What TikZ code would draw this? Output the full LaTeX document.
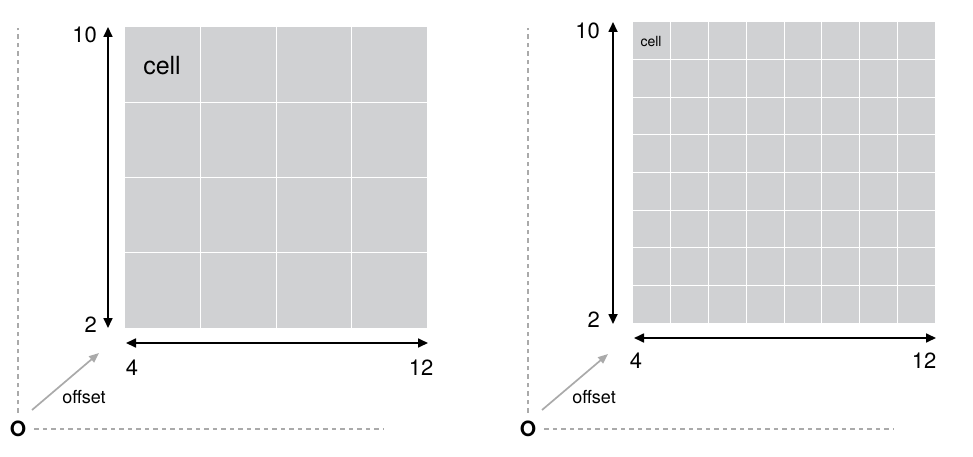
\documentclass[tikz,border=0pt]{standalone}
\usepackage{fontspec}
\setmainfont{TeX Gyre Heros}
\usetikzlibrary{arrows.meta,positioning}
\definecolor{cellgray}{RGB}{208,209,211}
\definecolor{guidegray}{RGB}{170,170,170}

\begin{document}
\begin{tikzpicture}[
  x=1pt, y=-1pt,
  dim/.style={{Triangle[length=10pt,width=9pt]}-{Triangle[length=10pt,width=9pt]}, line width=1.7pt},
  guide/.style={guidegray, line width=1.5pt, dash pattern=on 4.5pt off 4pt},
  offarrow/.style={-{Triangle[length=10pt,width=8pt]}, guidegray, line width=1.7pt},
  gridline/.style={white, line width=1pt},
  tick/.style={inner sep=0pt, font=\fontsize{22}{22}\selectfont},
  origin/.style={inner sep=0pt, font=\bfseries\fontsize{21}{21}\selectfont},
  offlabel/.style={inner sep=0pt, font=\fontsize{18}{18}\selectfont}
]
  \useasboundingbox (0,0) rectangle (973,457);

  % left: 4 x 4 cells
  \fill[cellgray] (125,27) rectangle (427,328);
  \foreach \i in {1,2,3} {
    \draw[gridline] ({125+75.5*\i},27) -- ({125+75.5*\i},328);
    \draw[gridline] (125,{27+75.25*\i}) -- (427,{27+75.25*\i});
  }
  \node[inner sep=0pt, font=\fontsize{25}{25}\selectfont] (cellL) at (162,66) {cell};

  \coordinate (vtopL) at (108,27);
  \coordinate (vbotL) at (108,328);
  \coordinate (hlftL) at (126,343);
  \coordinate (hrgtL) at (428,343);
  \draw[dim] (vbotL) -- (vtopL);
  \draw[dim] (hlftL) -- (hrgtL);
  \node[tick, anchor=east] (tenL) at (97,35) {10};
  \node[tick, anchor=east] (twoL) at (97,325) {2};
  \node[tick] (fourL) at (132,368) {4};
  \node[tick] (twelveL) at (421,368) {12};

  \node[origin] (originL) at (18,429) {O};
  \coordinate (ytopL) at (18,28);
  \coordinate (xendL) at (383,429);
  \draw[guide, shorten <=8pt] (originL) -- (ytopL);
  \draw[guide, shorten <=8pt] (originL) -- (xendL);
  \coordinate (offsL) at (32,410);
  \coordinate (offeL) at (99,353);
  \draw[offarrow] (offsL) -- (offeL);
  \node[offlabel] (offL) at (84,397) {offset};

  % right: 8 x 8 cells
  \fill[cellgray] (633,22) rectangle (935,323);
  \foreach \i in {1,...,7} {
    \draw[gridline] ({633+37.75*\i},22) -- ({633+37.75*\i},323);
    \draw[gridline] (633,{22+37.625*\i}) -- (935,{22+37.625*\i});
  }
  \node[inner sep=0pt, font=\fontsize{14}{14}\selectfont] (cellR) at (651,42) {cell};

  \coordinate (vtopR) at (613,22);
  \coordinate (vbotR) at (613,324);
  \coordinate (hlftR) at (634,338);
  \coordinate (hrgtR) at (936,338);
  \draw[dim] (vbotR) -- (vtopR);
  \draw[dim] (hlftR) -- (hrgtR);
  \node[tick, anchor=east] (tenR) at (600,31) {10};
  \node[tick, anchor=east] (twoR) at (600,320) {2};
  \node[tick] (fourR) at (636,361) {4};
  \node[tick] (twelveR) at (924,361) {12};

  \node[origin] (originR) at (528,429) {O};
  \coordinate (ytopR) at (528,28);
  \coordinate (xendR) at (893,429);
  \draw[guide, shorten <=8pt] (originR) -- (ytopR);
  \draw[guide, shorten <=8pt] (originR) -- (xendR);
  \coordinate (offsR) at (542,410);
  \coordinate (offeR) at (608,354);
  \draw[offarrow] (offsR) -- (offeR);
  \node[offlabel] (offR) at (594,397) {offset};
\end{tikzpicture}
\end{document}
